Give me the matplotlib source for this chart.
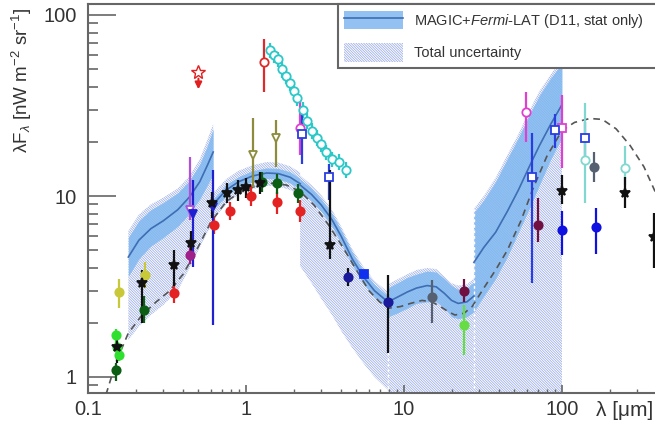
import matplotlib
matplotlib.use("Agg")
import matplotlib.pyplot as plt
import numpy as np
from matplotlib.lines import Line2D
from matplotlib.patches import Patch
from matplotlib.ticker import (FixedFormatter, FixedLocator, LogLocator,
                               NullFormatter)

plt.rcParams["font.family"] = ["Liberation Sans", "DejaVu Sans"]
plt.rcParams["mathtext.fontset"] = "custom"
plt.rcParams["mathtext.rm"] = "Liberation Sans"
plt.rcParams["mathtext.it"] = "Liberation Sans:italic"
plt.rcParams["hatch.linewidth"] = 0.6

# MAGIC+Fermi-LAT EBL bands, one list per wavelength segment (um, nW m-2 sr-1)
SEG_X = [[0.18, 0.21, 0.25, 0.3, 0.37, 0.44, 0.51, 0.57, 0.62],
         [0.62, 0.75, 0.9, 1.1, 1.35, 1.6, 1.9, 2.2],
         [2.2, 2.6, 3.0, 3.5, 4.0, 4.7, 5.5, 6.5, 7.9],
         [7.9, 9, 10.5, 12, 14, 16, 18, 20, 22, 25, 27.7],
         [27.7, 32, 38, 45, 53, 62, 72, 85, 100]]
SEG_Y = [[4.6, 5.7, 6.6, 7.3, 8.4, 9.9, 12.0, 14.8, 17.5],
         [9.0, 10.8, 12.0, 12.9, 13.4, 13.3, 12.7, 11.7],
         [11.5, 10.2, 8.9, 7.4, 6.0, 4.5, 3.6, 3.0, 2.6],
         [2.6, 2.75, 2.95, 3.1, 3.2, 3.15, 2.9, 2.65, 2.55, 2.6, 2.8],
         [4.3, 5.2, 6.3, 8.2, 10.8, 14.5, 19, 25, 32]]
SEG_STAT_HI = [[5.9, 7.3, 8.4, 9.2, 10.4, 12.2, 15.0, 19.0, 23.5],
               [9.6, 11.6, 12.8, 13.8, 14.3, 14.2, 13.6, 12.5],
               [12.4, 11.0, 9.6, 8.0, 6.5, 4.9, 3.9, 3.25, 2.8],
               [3.1, 3.3, 3.55, 3.7, 3.85, 3.8, 3.5, 3.2, 3.05, 3.1, 3.35],
               [8.1, 9.5, 12, 16, 21, 28, 36, 45, 54]]
SEG_STAT_LO = [[3.6, 4.5, 5.3, 5.9, 6.8, 8.0, 9.6, 11.5, 13.2],
               [8.4, 10.0, 11.2, 12.0, 12.5, 12.4, 11.8, 10.9],
               [10.6, 9.4, 8.2, 6.8, 5.5, 4.15, 3.3, 2.75, 2.4],
               [2.15, 2.25, 2.4, 2.55, 2.6, 2.6, 2.4, 2.15, 2.1, 2.15, 2.3],
               [2.3, 2.8, 3.5, 4.6, 6.3, 8.5, 11.5, 16, 21]]
SEG_TOT_HI = [[6.4, 7.9, 9.0, 9.8, 11.0, 12.9, 16.0, 20.5, 25.0],
              [10.4, 12.4, 13.8, 14.8, 15.4, 15.3, 14.6, 13.5],
              [13.0, 11.5, 10.1, 8.4, 6.8, 5.1, 4.1, 3.4, 2.95],
              [3.25, 3.45, 3.7, 3.9, 4.0, 3.95, 3.6, 3.3, 3.2, 3.25, 3.5],
              [8.5, 10, 12.6, 16.8, 22, 29.5, 38, 47, 57]]
SEG_TOT_LO = [[1.6, 1.9, 2.2, 2.5, 3.0, 4.0, 5.2, 6.3, 7.0],
              [7.4, 9.0, 10.2, 10.9, 11.4, 11.3, 10.8, 10.0],
              [4.1, 3.3, 2.7, 2.2, 1.8, 1.45, 1.2, 1.0, 0.85],
              [0.7] * 11,
              [0.7] * 9]

# model (dashed)
MODEL_X = [0.13, 0.15, 0.18, 0.22, 0.27, 0.33, 0.4, 0.48, 0.6, 0.75, 0.9, 1.1,
           1.4, 1.8, 2.2, 2.7, 3.3, 4.0, 5.0, 6.0, 7.0, 8.0, 9.5, 11, 13, 15,
           17, 19, 21, 24, 27, 32, 38, 45, 55, 65, 80, 100, 120, 150, 180,
           220, 270, 330, 400]
MODEL_Y = [0.80, 1.2, 1.75, 2.2, 2.6, 3.0, 3.7, 4.9, 7.2, 9.3, 10.4, 11.2,
           11.8, 11.5, 10.6, 8.9, 7.0, 5.4, 3.9, 3.0, 2.6, 2.4, 2.45, 2.55,
           2.65, 2.6, 2.45, 2.3, 2.2, 2.25, 2.45, 3.1, 3.9, 5.0, 7.3, 10.8,
           16.5, 23, 25.5, 26.8, 26.5, 23.5, 19, 14.5, 10]

# measurements: (lambda, value, lower, upper)
lime = [(0.150, 1.70, 1.55, 1.85), (0.153, 1.46, 1.35, 1.58),
        (0.156, 1.32, 1.22, 1.43)]
darkgreen = [(0.151, 1.09, 0.95, 1.2), (0.225, 2.34, 2.0, 2.8),
             (1.27, 11.9, 10.5, 13.5), (1.58, 11.8, 10.3, 13.3),
             (2.12, 10.4, 9.2, 11.6)]
yellow = [(0.157, 2.95, 2.4, 3.5), (0.228, 3.66, 3.1, 4.3)]
black = [(0.152, 1.46, 1.2, 1.75), (0.22, 3.3, 2.0, 3.9),
         (0.35, 4.15, 3.2, 5.0), (0.45, 5.5, 4.6, 6.4),
         (0.61, 9.1, 7.6, 10.5), (0.76, 10.4, 9.2, 11.8),
         (0.89, 10.8, 9.4, 12.2), (1.0, 11.2, 9.8, 12.6),
         (1.23, 11.8, 10.2, 13.5), (3.4, 5.35, 4.5, 14.0),
         (100, 10.6, 9.0, 13.0), (250, 10.4, 8.6, 12.8),
         (380, 5.9, 4.0, 8.1)]
red = [(0.35, 2.9, 2.55, 3.3), (0.63, 6.9, 6.2, 7.7), (0.79, 8.3, 7.4, 9.3),
       (1.07, 10.0, 8.8, 11.3), (1.58, 9.3, 8.0, 10.5), (2.2, 8.3, 7.2, 9.5)]
magenta = [(0.44, 4.7, 4.2, 5.2)]
olive = [(1.1, 16.8, 11.2, 27.0), (1.55, 20.9, 14.4, 26.3)]
cyan_x = [1.42, 1.5, 1.6, 1.7, 1.8, 1.9, 2.0, 2.1, 2.3, 2.45, 2.6, 2.8, 3.0,
          3.2, 3.5, 3.9, 4.3]
cyan_y = [64, 60, 57, 50, 46, 42, 38, 35, 30, 26, 23, 21, 19.5, 17.5, 16,
          15.5, 14]
red_open = [(1.3, 55, 37.5, 74)]
magenta_open = [(2.2, 23.7, 16.8, 33.9), (59, 29, 19.8, 37.7)]
magenta_sq = [(100, 23.7, 14.3, 36)]
violet_tri = [(0.44, 8.4, 7.4, 16.4)]
blue_small = [(0.46, 8.0, 4.05, 12.3), (0.62, 8.7, 1.94, 13.9)]
blue_sq = [(2.25, 22, 15, 30), (3.35, 12.7, 9.5, 15), (65, 12.7, 3.3, 22.4),
           (90, 23.2, 18.5, 28.5), (140, 20.9, 16.5, 25.5)]
navy = [(4.4, 3.57, 3.2, 4.0), (7.9, 2.6, 1.36, 3.66)]
blue_dot = [(100, 6.5, 4.7, 8.3), (163, 6.7, 4.8, 8.6)]
blue_fsq = [(5.6, 3.7, 3.5, 3.9)]
ltcyan = [(140, 15.8, 9.1, 32.6), (250, 14.2, 11.5, 19)]
darkred = [(24, 3.0, 2.6, 3.5), (70, 6.9, 5.6, 9.7)]
ltgreen = [(24, 1.94, 1.32, 2.5)]
slate = [(15, 2.77, 1.99, 3.43), (160, 14.5, 12, 17.5)]
UL_X, UL_Y, UL_TIP = [0.5], [48.5], [37.5]

BAND_C = "#80b8f0"
LINE_C = "#3e6db3"
HATCH_C = "#9fb0e8"
HATCH = "\\" * 13

fig = plt.figure(figsize=(6.55, 4.29), dpi=100)
ax = fig.add_axes([88 / 655, 36 / 429, 577 / 655, 389 / 429])
ax.set_xscale("log")
ax.set_yscale("log")
ax.set_xlim(0.1, 0.1 * 10 ** (577 / 158))
ax.set_ylim(10 ** (-16 / 181), 10 ** (373 / 181))

for i in range(len(SEG_X)):
    ax.fill_between(SEG_X[i], SEG_TOT_LO[i], SEG_TOT_HI[i], facecolor="none",
                    edgecolor=HATCH_C, hatch=HATCH, lw=0, zorder=1)
    ax.fill_between(SEG_X[i], SEG_STAT_LO[i], SEG_STAT_HI[i], color=BAND_C,
                    alpha=.85, lw=0, zorder=2)
    ax.plot(SEG_X[i], SEG_Y[i], color=LINE_C, lw=1.2, zorder=3)
ax.vlines([SEG_X[3][0], SEG_X[4][0]], 0.7, [SEG_TOT_HI[3][0], SEG_TOT_HI[4][0]],
          colors="white", linestyles=(0, (2, 2)), lw=1, zorder=2.5)

ax.plot(MODEL_X, MODEL_Y, color="#555", lw=1.2, dashes=(4, 3), zorder=3.5)

GROUPS = [
    (lime, dict(fmt="o", color="#2fe02f", mfc="#2fe02f")),
    (yellow, dict(fmt="o", color="#c8c838", mfc="#c8c838")),
    (red, dict(fmt="o", color="#e52222", mfc="#e52222")),
    (darkgreen, dict(fmt="o", color="#0c5e14", mfc="#0c5e14")),
    (magenta, dict(fmt="o", color="#a0208a", mfc="#a0208a")),
    (olive, dict(fmt="v", color="#8c8c3c", mfc="white")),
    (list(zip(cyan_x, cyan_y, np.array(cyan_y) * .9, np.array(cyan_y) * 1.1)),
     dict(fmt="o", color="#2cc8c8", mfc="white")),
    (red_open, dict(fmt="o", color="#dd2a2a", mfc="white")),
    (magenta_open, dict(fmt="o", color="#e040d0", mfc="white")),
    (magenta_sq, dict(fmt="s", color="#e040d0", mfc="white")),
    (violet_tri, dict(fmt="v", color="#b050d8", mfc="white")),
    (blue_small, dict(fmt="v", color="#2020d0", mfc="#2020d0")),
    (blue_sq, dict(fmt="s", color="#2a3ee0", mfc="white")),
    (ltcyan, dict(fmt="o", color="#80d8d0", mfc="white")),
    (darkred, dict(fmt="o", color="#701040", mfc="#701040")),
    (ltgreen, dict(fmt="o", color="#66dd44", mfc="#66dd44")),
    (slate, dict(fmt="o", color="#556070", mfc="#556070")),
    (black, dict(fmt="*", color="#111", mfc="#111", ms=7)),
    (navy, dict(fmt="o", color="#1a1a9a", mfc="#1a1a9a", ecolor="#111")),
    (blue_dot, dict(fmt="o", color="#1010e0", mfc="#1010e0")),
    (blue_fsq, dict(fmt="s", color="#1030f0", mfc="#1030f0")),
]
for pts, st in GROUPS:
    x, y, lo, hi = np.array(pts, dtype=float).T
    st = {"ms": 6, **st}
    ax.errorbar(x, y, yerr=[y - lo, hi - y], elinewidth=1.6, capsize=0,
                mew=1.3, zorder=4, **st)

ax.plot(UL_X, UL_Y, marker="*", ms=10, mfc="none", mec="#e02020", ls="none",
        zorder=4)
ax.annotate("", xy=(UL_X[0], UL_TIP[0]), xytext=(UL_X[0], UL_Y[0] * .95),
            arrowprops=dict(arrowstyle="-|>", color="#e02020", lw=1.5),
            zorder=4)

for axis, ticks, labels in [(ax.xaxis, [0.1, 1, 10, 100], ["0.1", "1", "10", "100"]),
                            (ax.yaxis, [1, 10, 100], ["1", "10", "100"])]:
    axis.set_major_locator(FixedLocator(ticks))
    axis.set_major_formatter(FixedFormatter(labels))
    axis.set_minor_locator(LogLocator(subs=np.arange(2, 10)))
    axis.set_minor_formatter(NullFormatter())
ax.tick_params(axis="y", which="major", direction="in", length=20, width=1.2,
               color="#666", labelsize=14.5, pad=8, labelcolor="#333")
ax.tick_params(axis="y", which="minor", direction="in", length=7, width=1.2,
               color="#666")
ax.tick_params(axis="x", which="major", direction="in", length=6, width=1.2,
               color="#666", labelsize=14.5, pad=5, labelcolor="#333")
ax.tick_params(axis="x", which="minor", direction="in", length=3, width=1.0,
               color="#666")
for s in ax.spines.values():
    s.set_color("#666")
    s.set_linewidth(1.5)

ax.set_ylabel("λF$_{\\lambda}$ [nW m$^{-2}$ sr$^{-1}$]", fontsize=13.5,
              color="#333", loc="top", va="center")
ax.yaxis.set_label_coords(-0.114, 0.99)
fig.text(596 / 655, 19 / 429, "λ [μm]", fontsize=15, color="#333",
         ha="left", va="center")

h1 = (Patch(facecolor=BAND_C, alpha=.85, lw=0),
      Line2D([], [], color=LINE_C, lw=1.2))
h2 = Patch(facecolor="white", edgecolor=HATCH_C, hatch=HATCH, lw=0)
leg = ax.legend([h1, h2], ["MAGIC+$\\it{Fermi}$-LAT (D11, stat only)",
                           "Total uncertainty"],
                loc="upper left", bbox_to_anchor=(0.433, 0.843, 0.567, 0.157),
                mode="expand", borderaxespad=0, fancybox=False,
                edgecolor="#666", fontsize=10.5, handlelength=4.0,
                handleheight=1.6, labelspacing=0.9, handletextpad=0.8,
                borderpad=0.45, framealpha=1)
leg.get_frame().set_linewidth(1.5)
for t in leg.get_texts():
    t.set_color("#333")

fig.savefig("out.png", dpi=100)
